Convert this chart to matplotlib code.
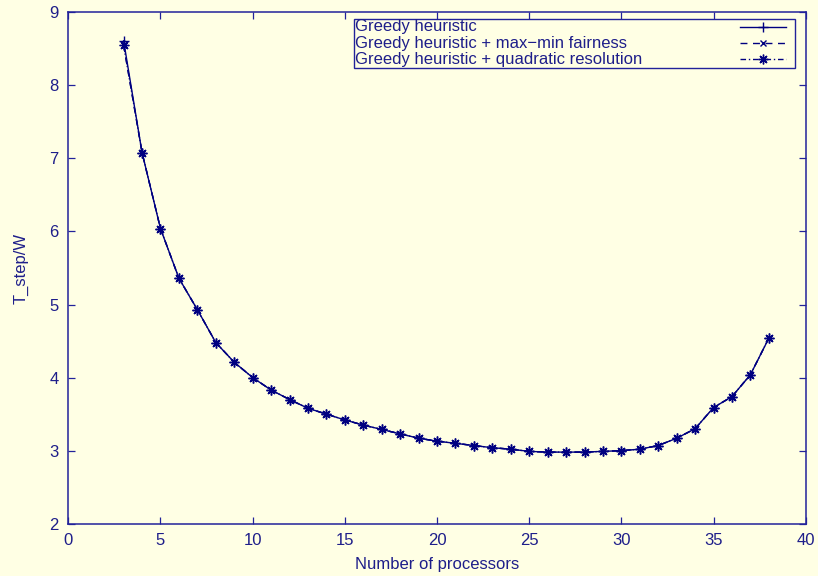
import matplotlib
matplotlib.use("Agg")
import matplotlib.pyplot as plt
from matplotlib.patches import Rectangle

plt.rcParams['font.family'] = ['Liberation Sans', 'DejaVu Sans']
plt.rcParams['font.size'] = 12

# data
procs = list(range(3, 39))
greedy = [8.61, 7.08, 6.04, 5.36, 4.93, 4.48, 4.21, 4.00, 3.83, 3.70,
          3.58, 3.50, 3.42, 3.35, 3.29, 3.23, 3.17, 3.13, 3.10, 3.07,
          3.04, 3.02, 2.99, 2.98, 2.98, 2.98, 2.99, 3.00, 3.02, 3.07,
          3.17, 3.30, 3.59, 3.74, 4.04, 4.54]
greedy_fair = [8.55, 7.08, 6.04, 5.36, 4.93, 4.48, 4.21, 4.00, 3.83, 3.70,
               3.58, 3.50, 3.42, 3.35, 3.29, 3.23, 3.17, 3.13, 3.10, 3.07,
               3.04, 3.02, 2.99, 2.98, 2.98, 2.98, 2.99, 3.00, 3.02, 3.07,
               3.17, 3.30, 3.59, 3.74, 4.04, 4.54]
greedy_quad = [8.55, 7.08, 6.04, 5.36, 4.93, 4.48, 4.21, 4.00, 3.83, 3.70,
               3.58, 3.50, 3.42, 3.35, 3.29, 3.23, 3.17, 3.13, 3.10, 3.07,
               3.04, 3.02, 2.99, 2.98, 2.98, 2.98, 2.99, 3.00, 3.02, 3.07,
               3.17, 3.30, 3.59, 3.74, 4.04, 4.54]
labels = ["Greedy heuristic",
          "Greedy heuristic + max\u2212min fairness",
          "Greedy heuristic + quadratic resolution"]
xticks = [0, 5, 10, 15, 20, 25, 30, 35, 40]
yticks = [2, 3, 4, 5, 6, 7, 8, 9]

bg = '#ffffe4'
text_col = '#1e1e8a'
frame_col = '#22229a'
line_col = '#000080'

fig = plt.figure(figsize=(8.18, 5.76), dpi=100, facecolor=bg)
ax = fig.add_axes([0.0835, 0.0908, 0.9015, 0.8878], facecolor=bg)

styles = [
    dict(linestyle='-', marker='+', markersize=7),
    dict(linestyle=(0, (5, 4)), marker='x', markersize=5),
    dict(linestyle=(0, (4, 2, 1, 2)), marker=(8, 2, 0), markersize=7),
]
series = [greedy, greedy_fair, greedy_quad]
for vals, st in zip(series, styles):
    ax.plot(procs, vals, color=line_col, lw=1.0, markeredgewidth=1.0, **st)

ax.set_xlim(0, 40)
ax.set_ylim(2, 9)
ax.set_xticks(xticks)
ax.set_yticks(yticks)
ax.tick_params(direction='in', length=5, width=0.9, top=True, right=True,
               pad=7, colors=frame_col, labelcolor=text_col, labelsize=12)
for sp in ax.spines.values():
    sp.set_color(frame_col)
    sp.set_linewidth(1.1)

ax.set_xlabel("Number of processors", color=text_col, labelpad=6)
ax.set_ylabel("T_step/W", color=text_col, labelpad=15)

# gnuplot style key: text on the left, sample on the right
ax.add_patch(Rectangle((0.3874, 0.8905), 0.5981, 0.0958, transform=ax.transAxes,
                       fill=False, edgecolor=frame_col, lw=1.0, clip_on=False))
rows = [0.9718, 0.9394, 0.9081]
for lab, st, yy in zip(labels, styles, rows):
    ax.text(0.3888, yy, lab, transform=ax.transAxes, ha='left', va='center',
            color=text_col, fontsize=12)
    ax.plot([0.9107, 0.9731], [yy, yy], transform=ax.transAxes, color=line_col,
            lw=1.0, linestyle=st['linestyle'], clip_on=False)
    ax.plot([0.9425], [yy], transform=ax.transAxes, color=line_col, lw=0,
            marker=st['marker'], markersize=st['markersize'],
            markeredgewidth=1.0, clip_on=False)

fig.savefig("out.png", dpi=100, facecolor=bg)
